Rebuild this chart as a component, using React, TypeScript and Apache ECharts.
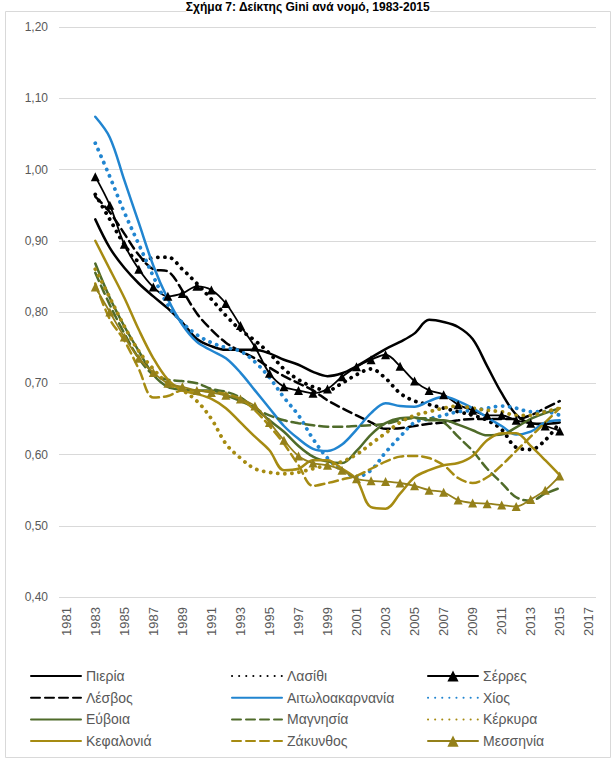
import React, { useEffect, useRef } from "react";
import * as echarts from "echarts";

const years = ["1981","1982","1983","1984","1985","1986","1987","1988","1989","1990","1991","1992","1993","1994","1995","1996","1997","1998","1999","2000","2001","2002","2003","2004","2005","2006","2007","2008","2009","2010","2011","2012","2013","2014","2015","2016","2017"];

// values 1983..2015
const pieria = [0.930,0.890,0.862,0.840,0.822,0.805,0.785,0.762,0.752,0.747,0.747,0.747,0.742,0.733,0.726,0.716,0.710,0.714,0.724,0.736,0.748,0.758,0.770,0.789,0.786,0.779,0.762,0.724,0.686,0.656,0.644,0.643,0.645];
const lasithi = [0.965,0.930,0.895,0.872,0.876,0.877,0.860,0.840,0.818,0.795,0.775,0.760,0.742,0.720,0.705,0.695,0.690,0.700,0.712,0.720,0.707,0.686,0.675,0.670,0.665,0.660,0.655,0.648,0.635,0.610,0.607,0.620,0.645];
const serres = [0.990,0.950,0.895,0.860,0.835,0.822,0.826,0.836,0.831,0.812,0.781,0.751,0.714,0.695,0.690,0.686,0.692,0.709,0.723,0.733,0.740,0.724,0.703,0.690,0.684,0.670,0.662,0.655,0.655,0.648,0.644,0.640,0.633];
const lesvos = [0.962,0.940,0.910,0.880,0.860,0.857,0.830,0.798,0.775,0.757,0.745,0.735,0.722,0.710,0.700,0.690,0.676,0.665,0.655,0.645,0.636,0.637,0.640,0.643,0.645,0.648,0.650,0.650,0.650,0.650,0.655,0.665,0.675];
const aitoloakarnania = [1.074,1.045,0.985,0.925,0.865,0.818,0.782,0.758,0.746,0.735,0.715,0.690,0.665,0.640,0.622,0.608,0.605,0.614,0.635,0.658,0.672,0.668,0.667,0.675,0.681,0.675,0.665,0.652,0.640,0.628,0.632,0.645,0.648];
const chios = [1.037,0.990,0.940,0.895,0.850,0.810,0.785,0.768,0.757,0.750,0.745,0.730,0.708,0.680,0.655,0.622,0.595,0.578,0.569,0.578,0.603,0.625,0.645,0.650,0.655,0.660,0.662,0.665,0.668,0.665,0.660,0.660,0.655];
const evia = [0.868,0.820,0.780,0.745,0.712,0.695,0.691,0.690,0.690,0.683,0.675,0.665,0.648,0.632,0.612,0.597,0.590,0.588,0.605,0.628,0.644,0.651,0.652,0.648,0.648,0.642,0.634,0.627,0.628,0.638,0.650,0.658,0.665];
const magnisia = [0.855,0.810,0.770,0.735,0.712,0.705,0.703,0.700,0.692,0.688,0.680,0.665,0.655,0.648,0.644,0.641,0.639,0.639,0.640,0.641,0.643,0.648,0.651,0.651,0.645,0.625,0.605,0.580,0.560,0.540,0.535,0.545,0.553];
const kerkyra = [0.860,0.820,0.780,0.745,0.720,0.700,0.690,0.675,0.650,0.615,0.595,0.580,0.575,0.573,0.575,0.580,0.585,0.590,0.600,0.615,0.630,0.645,0.655,0.660,0.665,0.668,0.665,0.662,0.660,0.655,0.655,0.660,0.665];
const kefalonia = [0.900,0.860,0.820,0.775,0.735,0.705,0.690,0.685,0.678,0.665,0.645,0.625,0.606,0.578,0.580,0.592,0.592,0.580,0.565,0.526,0.524,0.545,0.568,0.578,0.585,0.588,0.598,0.620,0.630,0.630,0.612,0.592,0.571];
const zakynthos = [0.840,0.790,0.760,0.720,0.680,0.682,0.690,0.690,0.688,0.685,0.678,0.662,0.640,0.615,0.585,0.556,0.560,0.565,0.570,0.580,0.590,0.597,0.598,0.595,0.585,0.567,0.560,0.568,0.585,0.605,0.625,0.645,0.665];
const messinia = [0.835,0.800,0.765,0.735,0.715,0.700,0.695,0.690,0.687,0.683,0.678,0.668,0.645,0.620,0.598,0.588,0.585,0.578,0.566,0.563,0.562,0.560,0.556,0.550,0.547,0.536,0.532,0.531,0.529,0.527,0.537,0.550,0.570];

const titleText = "Σχήμα 7: Δείκτης Gini ανά νομό, 1983-2015";

const BLACK = "#000000";
const BLUE = "#2185d0";
const GREEN = "#4f6b2a";
const GOLD = "#a68b12";
const GOLD2 = "#94801a";

const SOLID = "solid";
const DOT = [0.1, 7];
const DASH = [9, 5];

const seriesDefs = [
  { name: "Πιερία", data: pieria, color: BLACK, type: SOLID, width: 2.5, tri: false },
  { name: "Λασίθι", data: lasithi, color: BLACK, type: DOT, width: 3.8, tri: false },
  { name: "Σέρρες", data: serres, color: BLACK, type: SOLID, width: 1.8, tri: true },
  { name: "Λέσβος", data: lesvos, color: BLACK, type: DASH, width: 2.5, tri: false },
  { name: "Αιτωλοακαρνανία", data: aitoloakarnania, color: BLUE, type: SOLID, width: 2.5, tri: false },
  { name: "Χίος", data: chios, color: BLUE, type: DOT, width: 3.8, tri: false },
  { name: "Εύβοια", data: evia, color: GREEN, type: SOLID, width: 2.5, tri: false },
  { name: "Μαγνησία", data: magnisia, color: GREEN, type: DASH, width: 2.5, tri: false },
  { name: "Κέρκυρα", data: kerkyra, color: GOLD, type: DOT, width: 3.8, tri: false },
  { name: "Κεφαλονιά", data: kefalonia, color: GOLD, type: SOLID, width: 2.5, tri: false },
  { name: "Ζάκυνθος", data: zakynthos, color: GOLD, type: DASH, width: 2.5, tri: false },
  { name: "Μεσσηνία", data: messinia, color: GOLD2, type: SOLID, width: 1.8, tri: true },
];

const legendCols = [
  ["Πιερία", "Λέσβος", "Εύβοια", "Κεφαλονιά"],
  ["Λασίθι", "Αιτωλοακαρνανία", "Μαγνησία", "Ζάκυνθος"],
  ["Σέρρες", "Χίος", "Κέρκυρα", "Μεσσηνία"],
];
const legendLefts = [30, 231, 427];

export default function App() {
  const ref = useRef<HTMLDivElement>(null);
  useEffect(() => {
    document.body.style.margin = "0";
    if (!ref.current) return;
    const chart = echarts.init(ref.current, null, { renderer: "svg" });
    const pad = (arr: number[]) => [null, null, ...arr, null, null];
    const triNames = seriesDefs.filter((s) => s.tri).map((s) => s.name);
    chart.setOption({
      animation: false,
      backgroundColor: "#ffffff",
      textStyle: { fontFamily: "Liberation Sans, Arial, sans-serif" },
      graphic: [
        {
          type: "rect",
          shape: { x: 5.5, y: 11.5, width: 605, height: 746 },
          style: { fill: "none", stroke: "#d9d9d9", lineWidth: 1 },
          silent: true,
        },
        {
          type: "text",
          left: "center",
          top: 1,
          style: {
            text: titleText,
            fontSize: 12,
            fontWeight: "bold",
            fill: "#000",
            fontFamily: "Liberation Sans, Arial, sans-serif",
            backgroundColor: "#ffffff",
          },
          silent: true,
        },
      ],
      grid: { left: 59, right: 20, top: 27, bottom: 165 },
      xAxis: {
        type: "category",
        data: years,
        boundaryGap: true,
        axisLine: { show: false },
        axisTick: { show: false },
        axisLabel: { interval: 1, rotate: 90, fontSize: 13, color: "#595959", margin: 10 },
      },
      yAxis: {
        type: "value",
        min: 0.4,
        max: 1.2,
        interval: 0.1,
        axisLine: { show: false },
        axisTick: { show: false },
        axisLabel: {
          fontSize: 12,
          color: "#595959",
          margin: 11,
          formatter: (v: number) => v.toFixed(2).replace(".", ","),
        },
        splitLine: { lineStyle: { color: "#d9d9d9", width: 1 } },
      },
      legend: legendCols.map((col, i) => ({
        data: col.map((n) =>
          triNames.includes(n) ? { name: n } : { name: n, itemStyle: { opacity: 0 } }
        ),
        orient: "vertical",
        left: legendLefts[i],
        top: 669,
        padding: 0,
        itemWidth: 50,
        itemHeight: 14,
        itemGap: 7.7,
        textStyle: { fontSize: 14, color: "#595959" },
      })),
      series: seriesDefs.map((s) => ({
        name: s.name,
        type: "line",
        data: pad(s.data),
        smooth: 0.35,
        connectNulls: false,
        symbol: s.tri ? "triangle" : "none",
        symbolSize: s.tri ? 9 : 0,
        showSymbol: s.tri,
        itemStyle: { color: s.color, borderWidth: 0 },
        lineStyle: { color: s.color, width: s.width, type: s.type, cap: "round" },
        emphasis: { disabled: true },
      })),
    });
    return () => chart.dispose();
  }, []);
  return <div ref={ref} style={{ width: 616, height: 762 }} />;
}
